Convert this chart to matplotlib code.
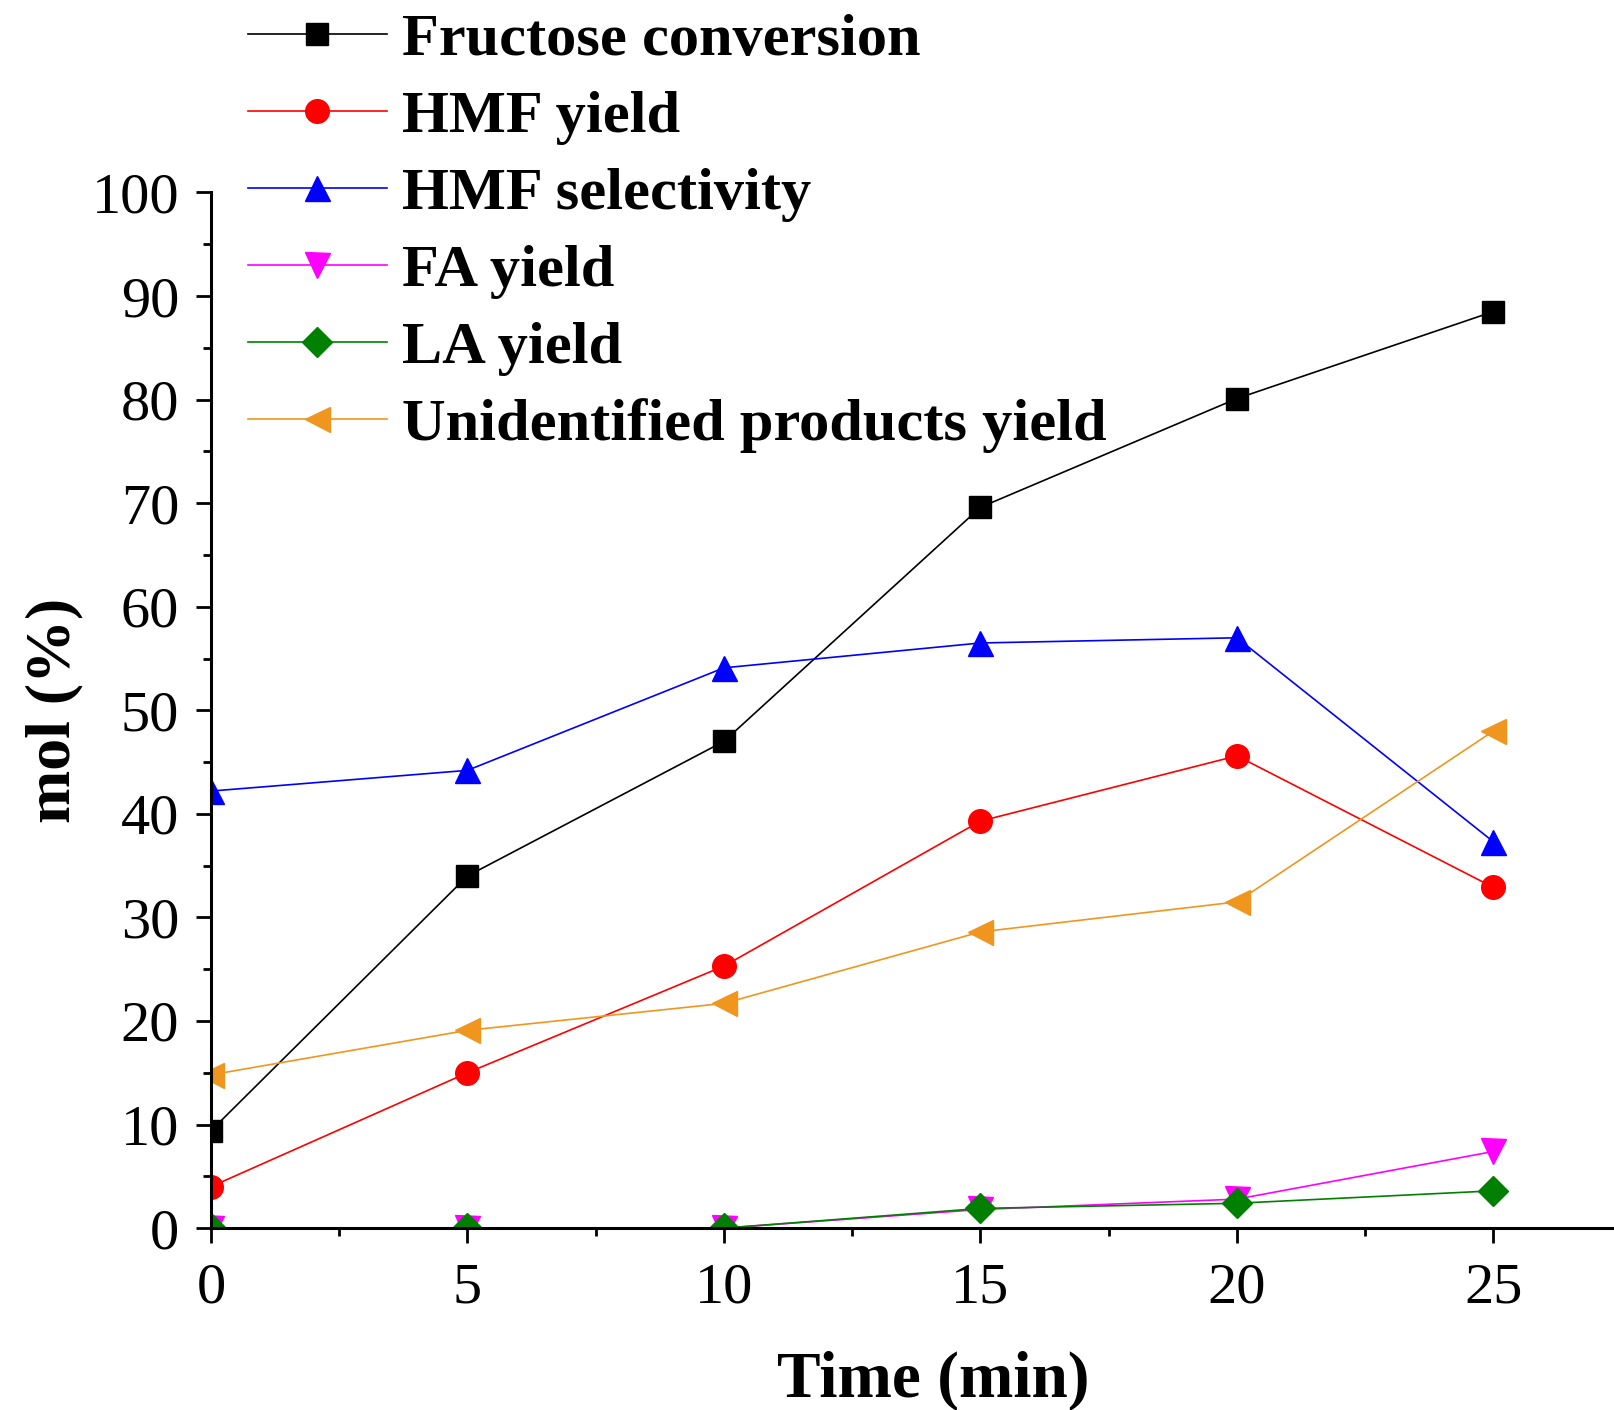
import matplotlib.pyplot as plt
from matplotlib.ticker import MultipleLocator

plt.rcParams['font.family'] = ['Liberation Serif', 'DejaVu Serif']

# reaction time (min)
time = [0, 5, 10, 15, 20, 25]

# values in mol %
fructose_conv = [9.4, 34.0, 47.0, 69.6, 80.1, 88.5]
hmf_yield = [4.0, 15.0, 25.3, 39.3, 45.6, 32.9]
hmf_select = [42.2, 44.2, 54.1, 56.5, 57.0, 37.3]
fa_yield = [0.0, 0.0, 0.0, 1.8, 2.8, 7.4]
la_yield = [0.0, 0.0, 0.0, 1.9, 2.4, 3.6]
unident_yield = [14.8, 19.1, 21.7, 28.6, 31.5, 48.0]

fig = plt.figure(figsize=(16.14, 14.10), dpi=100)
ax = fig.add_axes([0.1307, 0.129, 0.8693, 0.7345])

ms = 17
ax.plot(time, fructose_conv, color='black', marker='s', ms=ms - 1, lw=1.2, label='Fructose conversion')
ax.plot(time, hmf_yield, color='red', marker='o', ms=ms, lw=1.2, label='HMF yield')
ax.plot(time, hmf_select, color='blue', marker='^', ms=ms + 1, lw=1.2, label='HMF selectivity')
ax.plot(time, fa_yield, color='magenta', marker='v', ms=ms + 1, lw=1.2, label='FA yield')
ax.plot(time, la_yield, color='green', marker='D', ms=ms - 2, lw=1.2, label='LA yield')
ax.plot(time, unident_yield, color='#F0961E', marker='<', ms=ms + 1, lw=1.2,
        label='Unidentified products yield')

ax.set_xlim(0, 27.35)
ax.set_ylim(0, 100)
ax.xaxis.set_major_locator(MultipleLocator(5))
ax.xaxis.set_minor_locator(MultipleLocator(2.5))
ax.yaxis.set_major_locator(MultipleLocator(10))
ax.yaxis.set_minor_locator(MultipleLocator(5))

for side in ['top', 'right']:
    ax.spines[side].set_visible(False)
for side in ['left', 'bottom']:
    ax.spines[side].set_linewidth(2.2)

ax.tick_params(which='major', direction='out', length=11, width=2, labelsize=42)
ax.tick_params(axis='x', which='major', pad=14)
ax.tick_params(axis='y', which='major', pad=12)
ax.tick_params(which='minor', direction='out', length=6, width=2)

ax.set_xlabel('Time (min)', fontsize=47, fontweight='bold', labelpad=26)
ax.xaxis.label.set_x(0.515)
ax.set_ylabel('mol (%)', fontsize=46, fontweight='bold', labelpad=6)

leg = fig.legend(loc='upper left', bbox_to_anchor=(0.1385, 1.008), frameon=False,
                 prop={'size': 43.5, 'weight': 'bold'}, handlelength=2.3,
                 handletextpad=0.25, labelspacing=0.36, borderaxespad=0)

fig.savefig('out.png', dpi=100)
